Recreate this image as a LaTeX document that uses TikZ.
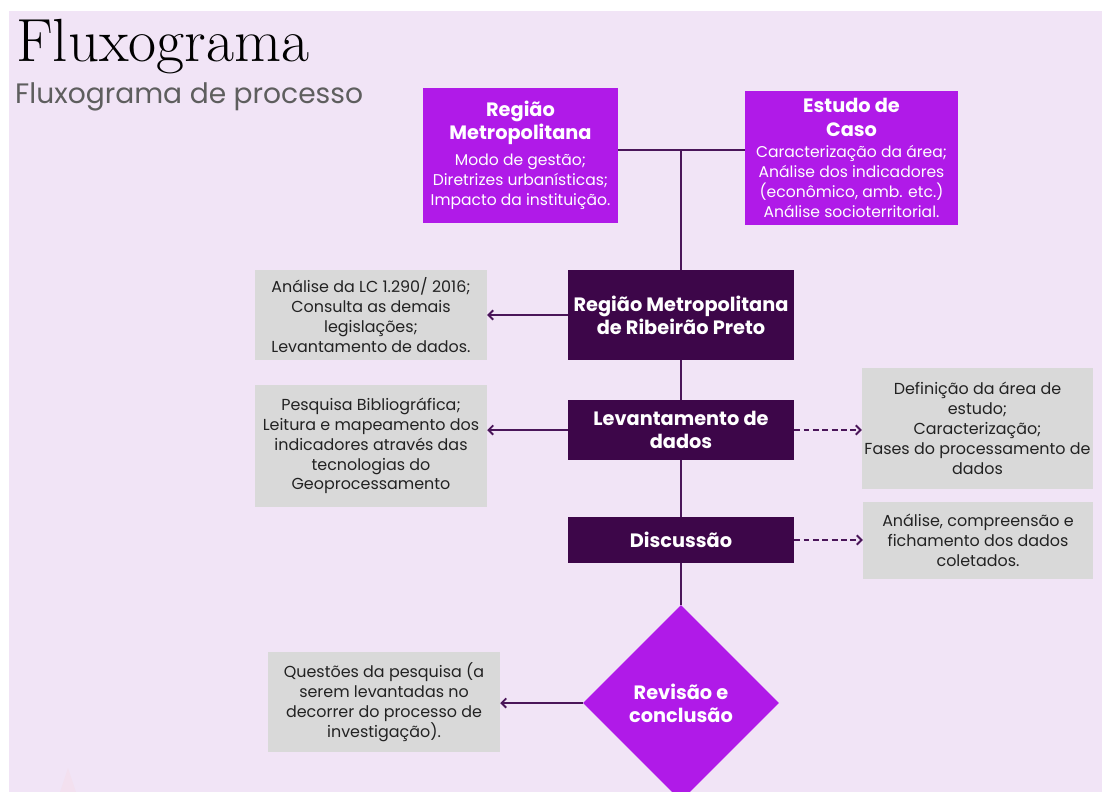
\documentclass[tikz,border=0pt]{standalone}
\usepackage{fontspec}
\setsansfont{Poppins}
\usetikzlibrary{shapes.geometric,arrows.meta}

\definecolor{bgcol}{HTML}{F1E4F6}
\definecolor{brightpurple}{HTML}{B01AE8}
\definecolor{darkpurple}{HTML}{3D0649}
\definecolor{notegray}{HTML}{D9D9D9}
\definecolor{linkcol}{HTML}{4A1559}
\definecolor{textcol}{HTML}{222222}
\definecolor{subcol}{HTML}{5E5E5E}

\newcommand{\headfont}{\bfseries\fontsize{16.5}{20}\selectfont}

\begin{document}
\begin{tikzpicture}[x=0.03cm,y=-0.03cm]
      \tikzstyle{topbox} = [rectangle, inner sep=0pt, text centered, align=center, fill=brightpurple, text=white, font=\sffamily\fontsize{13.3}{17}\selectfont]
      \tikzstyle{mainbox} = [rectangle, inner sep=0pt, minimum width=6.78cm, text centered, align=center, fill=darkpurple, text=white, font=\sffamily\bfseries\fontsize{16.5}{19.5}\selectfont]
      \tikzstyle{notebox} = [rectangle, inner sep=0pt, text centered, align=center, fill=notegray, text=textcol, font=\sffamily\fontsize{13.6}{17}\selectfont]
      \tikzstyle{decision} = [diamond, inner sep=0pt, minimum width=5.88cm, minimum height=5.88cm, text centered, align=center, fill=brightpurple, text=white, font=\sffamily\bfseries\fontsize{16.5}{19.5}\selectfont]
      \tikzstyle{link} = [line width=2.2pt, draw=linkcol]
      \tikzstyle{arrow} = [line width=1.6pt, draw=linkcol, ->, >={Straight Barb[length=4pt,width=8pt]}]
      \tikzstyle{dasharrow} = [arrow, dash pattern=on 5pt off 3pt]

      \useasboundingbox (0,0) rectangle (1102,792);
      \fill[bgcol] (9,11) rectangle (1102,792);
      \fill[pink!12!bgcol] (68,768) -- (60,792) -- (76,792) -- cycle;

      \node (title) [anchor=base west, font=\rmfamily\fontsize{52}{52}\selectfont] at (12,62) {Fluxograma};
      \node (subtitle) [anchor=base west, inner sep=0pt, text=subcol, font=\sffamily\fontsize{24}{24}\selectfont] at (15,104) {Fluxograma de processo};

      \node (rmtop) [topbox, minimum width=5.85cm, minimum height=4.05cm] at (520.5,155.5) {\headfont Região\\[1pt] \headfont Metropolitana\\[5pt] Modo de gestão;\\ Diretrizes urbanísticas;\\ Impacto da instituição.};
      \node (caso) [topbox, minimum width=6.39cm, minimum height=4.02cm] at (851.5,158) {\headfont Estudo de\\[3pt] \headfont Caso\\[1pt] Caracterização da área;\\ Análise dos indicadores\\ (econômico, amb. etc.)\\ Análise socioterritorial.};

      \node (rmrp) [mainbox, minimum height=2.7cm] at (681,315) {Região Metropolitana\\de Ribeirão Preto};
      \node (levant) [mainbox, minimum height=1.8cm] at (681,430) {Levantamento de\\dados};
      \node (discus) [mainbox, minimum height=1.38cm] at (681,540) {Discussão};
      \node (revisao) [decision] at (681,703) {Revisão e\\conclusão};

      \node (legis) [notebox, minimum width=6.96cm, minimum height=2.7cm] at (371,315) {Análise da LC 1.290/ 2016;\\ Consulta as demais\\ legislações;\\ Levantamento de dados.};
      \node (biblio) [notebox, minimum width=6.96cm, minimum height=3.66cm] at (371,446) {Pesquisa Bibliográfica;\\ Leitura e mapeamento dos\\ indicadores através das\\ tecnologias do\\ Geoprocessamento};
      \node (defin) [notebox, minimum width=6.93cm, minimum height=3.63cm] at (977.5,428.5) {Definição da área de\\ estudo;\\ Caracterização;\\ Fases do processamento de\\ dados};
      \node (analise) [notebox, minimum width=6.9cm, minimum height=2.31cm] at (978,540.5) {Análise, compreensão e\\ fichamento dos dados\\ coletados.};
      \node (questoes) [notebox, minimum width=6.96cm, minimum height=3cm] at (384,702) {Questões da pesquisa (a\\ serem levantadas no\\ decorrer do processo de\\ investigação).};

      % top junction
      \coordinate (junction) at (681,150);
      \draw [link] (rmtop.east |- junction) -- (caso.west |- junction);
      \draw [link] (junction) -- (rmrp.north);
      \draw [link] (rmrp.south) -- (levant.north);
      \draw [link] (levant.south) -- (discus.north);
      \draw [link] (discus.south) -- (revisao.north);

      \draw [arrow] (rmrp.west) -- (legis.east);
      \draw [arrow] (levant.west) -- (levant.west -| biblio.east);
      \draw [arrow] (revisao.west) -- (revisao.west -| questoes.east);
      \draw [dasharrow] (levant.east) -- (levant.east -| defin.west);
      \draw [dasharrow] (discus.east) -- (discus.east -| analise.west);
\end{tikzpicture}
\end{document}
